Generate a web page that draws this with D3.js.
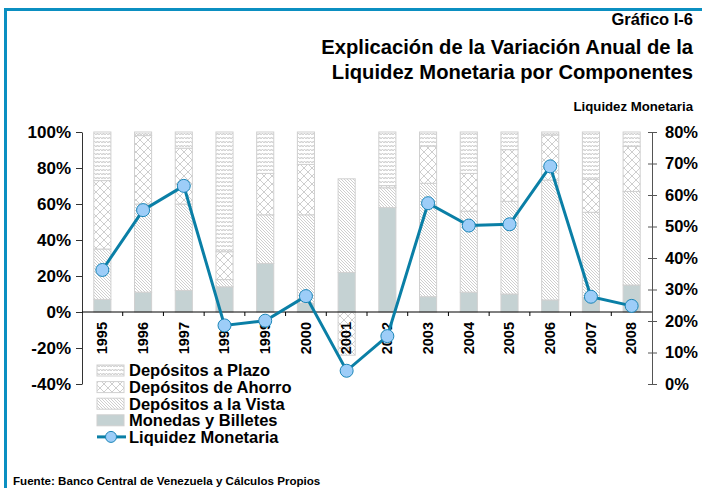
<!DOCTYPE html>
<html><head><meta charset="utf-8">
<script src="https://cdn.jsdelivr.net/npm/d3@7"></script>
<style>html,body{margin:0;padding:0;background:#fff;}svg{display:block;font-family:"Liberation Sans",Arial,sans-serif;}</style>
</head><body>
<script>
const years = ['1995','1996','1997','1998','1999','2000','2001','2002','2003','2004','2005','2006','2007','2008'];
const monedas = [7, 11, 12, 14, 27, 5, 22, 58, 8.5, 11, 10, 6.7, 8, 15];
const vista   = [28, 49, 48, 4, 27, 49, 52, 11, 63, 45, 51.5, 66.6, 47.4, 52];
const ahorro  = [38, 38, 31, 15.5, 23, 28, -24, 1.2, 20.7, 21, 28.7, 25, 18.3, 25];
const plazo   = [27, 2, 9, 66.5, 23, 18, 0, 29.8, 7.8, 23, 9.8, 1.7, 26.3, 8];
const liquidez = [36.2, 55.2, 62.9, 18.6, 20.1, 27.9, 4.2, 15.2, 57.4, 50.3, 50.7, 69.1, 27.7, 24.8];
const leftTicks = [-40, -20, 0, 20, 40, 60, 80, 100];
const rightTicks = [0, 10, 20, 30, 40, 50, 60, 70, 80];
const seriesNames = ['Depósitos a Plazo','Depósitos de Ahorro','Depósitos a la Vista','Monedas y Billetes','Liquidez Monetaria'];

const W = 702, H = 488;
const svg = d3.select('body').append('svg').attr('width', W).attr('height', H);

// patterns
const defs = svg.append('defs');
const pc = '#c8c8c8';
// Plazo: zigzag weave
const pP = defs.append('pattern').attr('id','pPlazo').attr('patternUnits','userSpaceOnUse').attr('width',6).attr('height',4);
pP.append('rect').attr('width',6).attr('height',4).attr('fill','#fff');
pP.append('path').attr('d','M0,3 L1.5,1 L3,3 L4.5,1 L6,3').attr('fill','none').attr('stroke',pc).attr('stroke-width',0.9);
pP.append('path').attr('d','M0,1 L1.5,3 L3,1').attr('fill','none').attr('stroke','#dcdcdc').attr('stroke-width',0.6);
// Ahorro: lattice
const pA = defs.append('pattern').attr('id','pAhorro').attr('patternUnits','userSpaceOnUse').attr('width',8).attr('height',8);
pA.append('rect').attr('width',8).attr('height',8).attr('fill','#fff');
pA.append('path').attr('d','M0,0 L8,8 M8,0 L0,8').attr('fill','none').attr('stroke',pc).attr('stroke-width',0.9);
// Vista: diagonal lines
const pV = defs.append('pattern').attr('id','pVista').attr('patternUnits','userSpaceOnUse').attr('width',3).attr('height',3);
pV.append('rect').attr('width',3).attr('height',3).attr('fill','#fff');
pV.append('path').attr('d','M-1,-1 L4,4 M-1,2 L1,4 M2,-1 L4,1').attr('fill','none').attr('stroke',pc).attr('stroke-width',0.9);

const fills = {plazo:'url(#pPlazo)', ahorro:'url(#pAhorro)', vista:'url(#pVista)', monedas:'#c5d2d3'};

// frame
const blue = '#0b8fc1';
svg.append('line').attr('x1',4).attr('x2',W).attr('y1',9.5).attr('y2',9.5).attr('stroke',blue).attr('stroke-width',3);
svg.append('line').attr('x1',5.5).attr('x2',5.5).attr('y1',8).attr('y2',H).attr('stroke',blue).attr('stroke-width',3);

// titles
const tR = 693;
svg.append('text').attr('x',tR).attr('y',25).attr('text-anchor','end').attr('font-size',16.5).attr('font-weight','bold').text('Gráfico I-6');
svg.append('text').attr('x',tR).attr('y',54).attr('text-anchor','end').attr('font-size',20.2).attr('font-weight','bold').text('Explicación de la Variación Anual de la');
svg.append('text').attr('x',tR).attr('y',79).attr('text-anchor','end').attr('font-size',20.2).attr('font-weight','bold').text('Liquidez Monetaria por Componentes');
svg.append('text').attr('x',tR).attr('y',111).attr('text-anchor','end').attr('font-size',13.2).attr('font-weight','bold').text('Liquidez Monetaria');
svg.append('text').attr('x',13).attr('y',485).attr('font-size',11.6).attr('font-weight','bold').text('Fuente: Banco Central de Venezuela y Cálculos Propios');

// scales
const x = d3.scaleBand().domain(years).range([82, 652]).paddingInner(0.58).paddingOuter(0.29);
const yL = d3.scaleLinear().domain([-40, 100]).range([384, 132]);
const yR = d3.scaleLinear().domain([0, 80]).range([384, 132]);

// bars
const keys = ['monedas','vista','ahorro','plazo'];
const vals = {monedas, vista, ahorro, plazo};
const gBars = svg.append('g');
years.forEach((yr, i) => {
  let pos = 0, neg = 0;
  keys.forEach(k => {
    const v = vals[k][i];
    if (!v) return;
    let y0, y1;
    if (v >= 0) { y0 = pos; y1 = pos + v; pos = y1; } else { y0 = neg + v; y1 = neg; neg = y0; }
    gBars.append('rect').attr('x', x(yr)).attr('width', x.bandwidth())
      .attr('y', yL(y1)).attr('height', yL(y0) - yL(y1))
      .attr('fill', fills[k]).attr('stroke', '#d0d0d0').attr('stroke-width', 1);
  });
});

// left axis
const axL = svg.append('g').attr('transform','translate(82,0)')
  .call(d3.axisLeft(yL).tickValues(leftTicks).tickSize(6).tickSizeOuter(0).tickPadding(5).tickFormat(d => d + '%'));
axL.select('.domain').attr('stroke','#333');
axL.selectAll('.tick line').attr('stroke','#333');
axL.selectAll('text').attr('font-size',17).attr('font-weight','bold').attr('font-family','"Liberation Sans",Arial,sans-serif').attr('fill','#000');

// right axis
const axR = svg.append('g').attr('transform','translate(652,0)')
  .call(d3.axisRight(yR).tickValues(rightTicks).tickSize(5).tickSizeOuter(0).tickPadding(8).tickFormat(d => d + '%'));
axR.select('.domain').attr('stroke','#555');
axR.selectAll('.tick line').attr('x1',-4).attr('stroke','#555');
axR.selectAll('text').attr('font-size',16.5).attr('font-weight','bold').attr('font-family','"Liberation Sans",Arial,sans-serif').attr('fill','#000');

// x axis
const axX = svg.append('g').attr('transform','translate(0,' + yL(0) + ')');
axX.append('line').attr('x1',82).attr('x2',652).attr('stroke','#000');
const bounds = d3.range(1, years.length).map(i => x(years[i]) - x.step() * x.paddingInner() / 2);
axX.selectAll('.xt').data(bounds).enter().append('line').attr('x1',d=>d).attr('x2',d=>d).attr('y1',0).attr('y2',4).attr('stroke','#000');
axX.selectAll('.xl').data(years).enter().append('text')
  .attr('transform', d => 'translate(' + (x(d) + x.bandwidth()/2 - 0.5) + ',10) rotate(-90)')
  .attr('text-anchor','end').attr('dy','0.36em').attr('font-size',14.5).attr('font-weight','bold').text(d => d);

// line
const lineColor = '#0a7fa6';
const line = d3.line().x((d, i) => x(years[i]) + x.bandwidth()/2).y(d => yR(d));
svg.append('path').datum(liquidez).attr('d', line).attr('fill','none').attr('stroke',lineColor).attr('stroke-width',3);
svg.selectAll('.pt').data(liquidez).enter().append('circle')
  .attr('cx', (d, i) => x(years[i]) + x.bandwidth()/2).attr('cy', d => yR(d)).attr('r', 6.5)
  .attr('fill','#9dcdf8').attr('stroke','#1b86b8').attr('stroke-width',1);

// legend
const lg = svg.append('g');
const legFills = [fills.plazo, fills.ahorro, fills.vista, fills.monedas];
seriesNames.forEach((name, i) => {
  const cy = 370.5 + i * 16.6;
  if (i < 4) {
    lg.append('rect').attr('x', 97).attr('y', cy - 5.5).attr('width', 27).attr('height', 11)
      .attr('fill', legFills[i]).attr('stroke','#d0d0d0');
  } else {
    lg.append('line').attr('x1', 97).attr('x2', 126).attr('y1', cy).attr('y2', cy).attr('stroke', lineColor).attr('stroke-width', 3);
    lg.append('circle').attr('cx', 111).attr('cy', cy).attr('r', 5.5).attr('fill','#9dcdf8').attr('stroke','#1b86b8');
  }
  lg.append('text').attr('x', 129).attr('y', cy).attr('dy','0.36em').attr('font-size',16.5).attr('font-weight','bold').text(name);
});
</script>
</body></html>
